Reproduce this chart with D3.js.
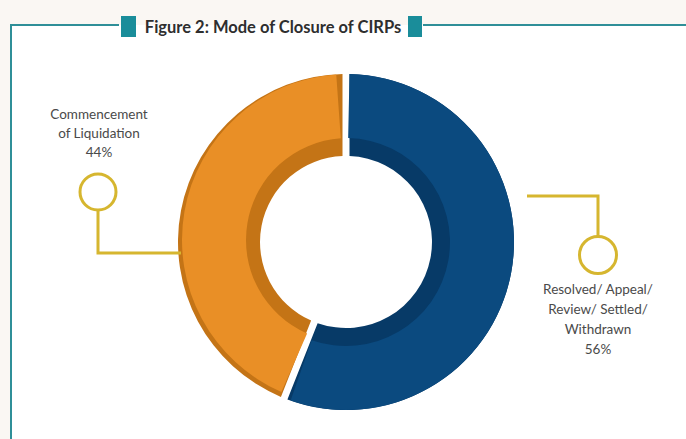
<!DOCTYPE html>
<html><head><meta charset="utf-8">
<script src="https://cdn.jsdelivr.net/npm/d3@7"></script>
<style>
html,body{margin:0;padding:0;background:#faf7f3;}
svg{display:block;}
</style></head>
<body>
<svg id="chart" width="686" height="439"></svg>
<script>
// ---- data ----
const title = "Figure 2: Mode of Closure of CIRPs";
const categories = ["Resolved/ Appeal/ Review/ Settled/ Withdrawn", "Commencement of Liquidation"];
const values = [56, 44];
const labelLines = [
  ["Resolved/ Appeal/", "Review/ Settled/", "Withdrawn", "56%"],
  ["Commencement", "of Liquidation", "44%"]
];
const faceColors = ["#0b4a7f", "#e98f26"];
const edgeColors = ["#073a67", "#c47416"];

const svg = d3.select("#chart");
const W = 686, H = 439;

// frame
svg.append("rect").attr("x", 11).attr("y", 25).attr("width", W - 11).attr("height", H - 25).attr("fill", "#ffffff");
const teal = "#2f8f98";
svg.append("line").attr("x1", 11).attr("x2", 11).attr("y1", 25).attr("y2", H).attr("stroke", teal).attr("stroke-width", 2);
svg.append("line").attr("x1", 10).attr("x2", 119).attr("y1", 25).attr("y2", 25).attr("stroke", teal).attr("stroke-width", 2);
svg.append("line").attr("x1", 423).attr("x2", W).attr("y1", 25).attr("y2", 25).attr("stroke", teal).attr("stroke-width", 2);
svg.append("rect").attr("x", 121).attr("y", 16).attr("width", 15).attr("height", 21).attr("fill", "#1a8d9a");
svg.append("rect").attr("x", 408).attr("y", 16).attr("width", 14).attr("height", 21).attr("fill", "#1a8d9a");
svg.append("text").attr("x", 273).attr("y", 33).attr("text-anchor", "middle")
  .attr("font-family", "Lato, sans-serif").attr("font-weight", "bold").attr("font-size", 16.5)
  .attr("fill", "#2e2e2e").text(title);

// donut
const cx = 346, cy = 242, R = 168, r0 = 86;
const g = svg.append("g").attr("transform", `translate(${cx},${cy})`);
const pie = d3.pie().sort(null).value(d => d)(values);
const pad = 7 / R;
const base = d3.arc().innerRadius(r0).outerRadius(R).padAngle(pad).padRadius(R);
g.selectAll("path.base").data(pie).join("path").attr("class", "base")
  .attr("d", base).attr("fill", (d, i) => edgeColors[i]);
const faceInset = [{inn: 18, out: 0, a0: 0.0, a1: 0.02, dx: 0, dy: 0}, {inn: 16, out: 2, a0: 0.015, a1: 0.05, dx: 2, dy: -2}];
g.selectAll("path.face").data(pie).join("path").attr("class", "face")
  .attr("transform", (d, i) => `translate(${faceInset[i].dx},${faceInset[i].dy})`)
  .attr("d", (d, i) => d3.arc()
    .innerRadius(r0 + faceInset[i].inn).outerRadius(R - faceInset[i].out)
    .startAngle(d.startAngle + faceInset[i].a0 + pad / 2)
    .endAngle(d.endAngle - faceInset[i].a1 - pad / 2)())
  .attr("fill", (d, i) => faceColors[i]);

// connectors
const gold = "#d6b62f";
const conn = svg.append("g").attr("fill", "none").attr("stroke", gold).attr("stroke-width", 3);
conn.append("path").attr("d", d3.line()([[181, 253], [98, 253], [98, 211]]));
conn.append("circle").attr("cx", 98).attr("cy", 192).attr("r", 18).attr("fill", "#fff");
conn.append("path").attr("d", d3.line()([[527, 196], [598, 196], [598, 236]]));
conn.append("circle").attr("cx", 598).attr("cy", 255).attr("r", 18.5).attr("fill", "#fff");

// labels
const lab = svg.append("g").attr("font-family", "Lato, sans-serif").attr("font-size", 13.5)
  .attr("fill", "#4a4a4a").attr("text-anchor", "middle");
const t1 = lab.append("text").attr("x", 99).attr("y", 119);
labelLines[1].forEach((s, i) => t1.append("tspan").attr("x", 99).attr("dy", i ? 19 : 0).text(s));
const t0 = lab.append("text").attr("x", 598).attr("y", 294);
labelLines[0].forEach((s, i) => t0.append("tspan").attr("x", 598).attr("dy", i ? 20 : 0).text(s));
</script>
</body></html>
